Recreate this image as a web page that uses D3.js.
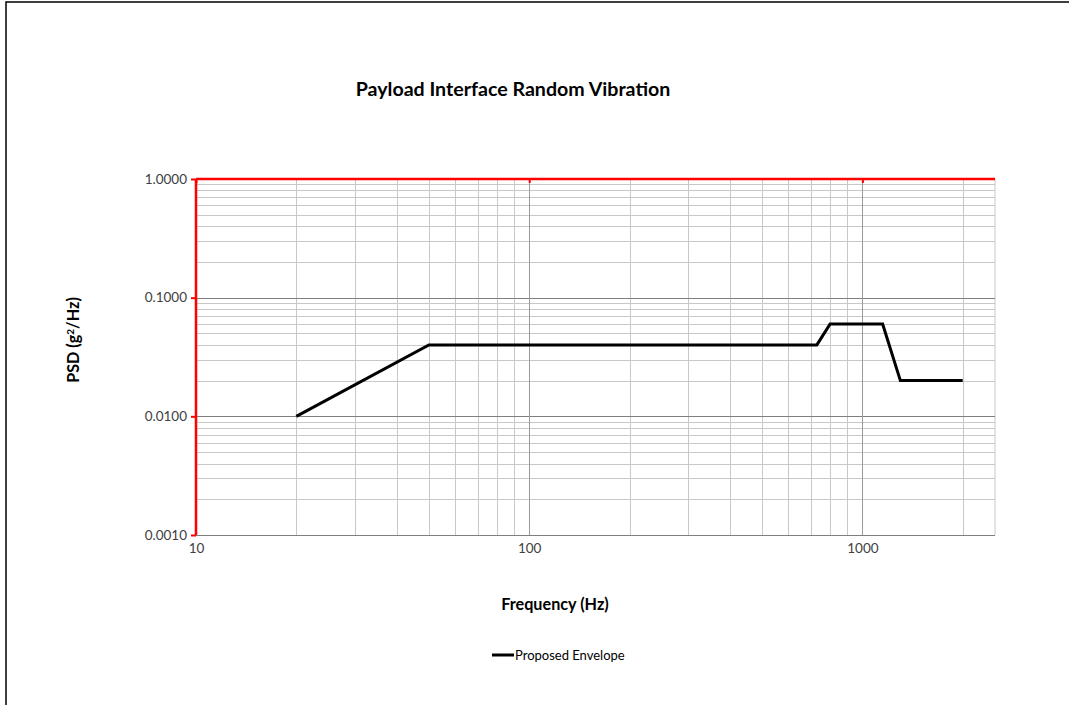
<!DOCTYPE html>
<html><head><meta charset="utf-8">
<script src="https://cdn.jsdelivr.net/npm/d3@7"></script>
<style>body{margin:0;background:#fff}svg{display:block}</style>
</head><body>
<svg id="c" width="1069" height="705"></svg>
<script>
const freqs = [20, 50, 730, 800, 1150, 1300, 2000];
const psd   = [0.01, 0.04, 0.04, 0.06, 0.06, 0.02, 0.02];
const yTicks = [0.001, 0.01, 0.1, 1];
const xTicks = [10, 100, 1000];
const seriesName = "Proposed Envelope";
const title = "Payload Interface Random Vibration";
const xTitle = "Frequency (Hz)";

const svg = d3.select("#c");
const font = "Lato, 'Open Sans', sans-serif";
// outer frame
svg.append("rect").attr("x",6).attr("y",2).attr("width",1200).attr("height",800)
  .attr("fill","none").attr("stroke","#000").attr("stroke-width",1.5);

const L=196, R=995, T=179, B=535;
const x = d3.scaleLog().domain([10,2500]).range([L,R]);
const y = d3.scaleLog().domain([0.001,1]).range([B,T]);

const g = svg.append("g");
// minor grid
const xMinor = [];
[10,100,1000].forEach(d=>{for(let k=2;k<=9;k++){const v=d*k; if(v<=2500) xMinor.push(v);}});
const yMinor = [];
[0.001,0.01,0.1].forEach(d=>{for(let k=2;k<=9;k++) yMinor.push(d*k);});
g.selectAll(".ym").data(yMinor).enter().append("line")
  .attr("x1",L).attr("x2",R).attr("y1",d=>Math.round(y(d))+0.5).attr("y2",d=>Math.round(y(d))+0.5)
  .attr("stroke","#c8c8c8").attr("stroke-width",1);
g.selectAll(".xm").data(xMinor).enter().append("line")
  .attr("y1",T).attr("y2",B).attr("x1",d=>Math.round(x(d))+0.5).attr("x2",d=>Math.round(x(d))+0.5)
  .attr("stroke","#c8c8c8").attr("stroke-width",1);
// right border
g.append("line").attr("x1",R).attr("x2",R).attr("y1",T).attr("y2",B).attr("stroke","#c8c8c8");
// major grid
g.selectAll(".yM").data([0.001,0.01,0.1]).enter().append("line")
  .attr("x1",L).attr("x2",R).attr("y1",d=>Math.round(y(d))+0.5).attr("y2",d=>Math.round(y(d))+0.5)
  .attr("stroke","#7f7f7f").attr("stroke-width",1);
g.selectAll(".xM").data([100,1000]).enter().append("line")
  .attr("y1",T).attr("y2",B).attr("x1",d=>Math.round(x(d))+0.5).attr("x2",d=>Math.round(x(d))+0.5)
  .attr("stroke","#9a9a9a").attr("stroke-width",1);

// axes (red)
const yAxis = d3.axisLeft(y).tickValues(yTicks).tickFormat(d3.format(".4f")).tickSize(5).tickPadding(4);
const ya = svg.append("g").attr("transform",`translate(${L},0)`).call(yAxis);
ya.select(".domain").attr("stroke","#ff0000").attr("stroke-width",2.5).attr("d",`M0,${T}V${B}`);
ya.selectAll(".tick line").attr("stroke","#ff0000").attr("stroke-width",2);
ya.selectAll(".tick text").attr("font-family",font).attr("font-size",13.5).attr("fill","#404040");

const xTop = d3.axisBottom(x).tickValues(xTicks).tickFormat("").tickSize(4);
const xa = svg.append("g").attr("transform",`translate(0,${T})`).call(xTop);
xa.select(".domain").attr("stroke","#ff0000").attr("stroke-width",2.5).attr("d",`M${L},0H${R}`);
xa.selectAll(".tick line").attr("stroke","#ff0000").attr("stroke-width",2);

const xLab = d3.axisBottom(x).tickValues(xTicks).tickFormat(d3.format("d")).tickSize(0).tickPadding(8);
const xl = svg.append("g").attr("transform",`translate(0,${B})`).call(xLab);
xl.select(".domain").remove();
xl.selectAll(".tick text").attr("font-family",font).attr("font-size",13.5).attr("fill","#404040");

// data line
const line = d3.line().x((d,i)=>x(freqs[i])).y((d,i)=>y(psd[i]));
svg.append("path").datum(psd).attr("d",line).attr("fill","none")
  .attr("stroke","#000").attr("stroke-width",3).attr("stroke-linejoin","miter");

// titles
svg.append("text").attr("x",513).attr("y",96).attr("text-anchor","middle")
  .attr("font-family",font).attr("font-weight","bold").attr("font-size",19.6).text(title);
svg.append("text").attr("x",555).attr("y",610).attr("text-anchor","middle")
  .attr("font-family",font).attr("font-weight","bold").attr("font-size",16.2).text(xTitle);
const yt = svg.append("text").attr("transform","translate(79,340) rotate(-90)").attr("text-anchor","middle")
  .attr("font-family",font).attr("font-weight","bold").attr("font-size",16.2);
yt.append("tspan").text("PSD (g");
yt.append("tspan").attr("font-size",10).attr("dy",-5).text("2");
yt.append("tspan").attr("dy",5).text("/Hz)");

// legend
svg.append("line").attr("x1",492).attr("x2",514).attr("y1",655).attr("y2",655).attr("stroke","#000").attr("stroke-width",3);
svg.append("text").attr("x",515).attr("y",659.5).attr("font-family",font).attr("font-size",13).attr("fill","#000").text(seriesName);
</script>
</body></html>
